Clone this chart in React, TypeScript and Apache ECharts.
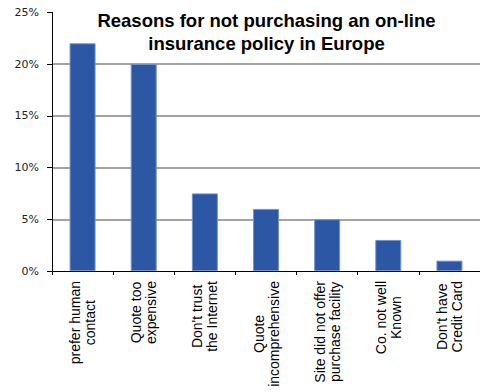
import React, { useEffect, useRef } from "react";
import * as echarts from "echarts";

const titleLines = ["Reasons for not purchasing an on-line", "insurance policy in Europe"];
const categories: string[][] = [
  ["prefer human", "contact"],
  ["Quote too", "expensive"],
  ["Don't trust", "the Internet"],
  ["Quote", "incomprehensive"],
  ["Site did not offer", "purchase facility"],
  ["Co. not well", "Known"],
  ["Don't have", "Credit Card"],
];
const values = [22, 20, 7.5, 6, 5, 3, 1];
const yMin = 0;
const yMax = 25;
const yStep = 5;

const LABEL_FONT = "Liberation Sans";
const LABEL_SIZE = 14;

function measure(text: string): number {
  const c = document.createElement("canvas").getContext("2d");
  if (!c) return text.length * 7;
  c.font = `${LABEL_SIZE}px "${LABEL_FONT}"`;
  return c.measureText(text).width;
}

export default function App() {
  const ref = useRef<HTMLDivElement>(null);
  useEffect(() => {
    if (!ref.current) return;
    const chart = echarts.init(ref.current, undefined, { renderer: "svg" });
    const rich: Record<string, any> = {};
    categories.forEach((lines, i) => {
      const widths = lines.map(measure);
      const w = Math.max(...widths);
      lines.forEach((_l, j) => {
        rich[`c${i}_${j}`] = {
          fontSize: LABEL_SIZE,
          fontFamily: LABEL_FONT,
          lineHeight: 15,
          color: "#000",
          padding: [0, (w - widths[j]) / 2, 0, 0],
        };
      });
    });
    chart.setOption({
      animation: false,
      grid: { left: 52, right: -6.4, top: 12.25, bottom: 121, containLabel: false },
      graphic: [
        {
          type: "text",
          x: 266.5,
          y: 9,
          style: {
            text: titleLines.join("\n"),
            align: "center",
            verticalAlign: "top",
            font: 'bold 18.5px "Liberation Sans"',
            lineHeight: 23,
            fill: "#000",
          },
          z: 10,
        },
      ],
      xAxis: {
        type: "category",
        data: categories.map((l) => l.join("\n")),
        boundaryGap: true,
        axisLine: { show: true, lineStyle: { color: "#000", width: 1 } },
        axisTick: { show: true, length: 4, alignWithLabel: false, lineStyle: { color: "#000" } },
        axisLabel: {
          interval: 0,
          rotate: 90,
          margin: 10,
          fontFamily: LABEL_FONT,
          fontSize: LABEL_SIZE,
          lineHeight: 15,
          color: "#000",
          formatter: (_v: string, i: number) =>
            categories[i].map((l, j) => `{c${i}_${j}|${l}}`).join("\n"),
          rich,
        },
        splitLine: { show: false },
      },
      yAxis: {
        type: "value",
        min: yMin,
        max: yMax,
        interval: yStep,
        axisLine: { show: true, lineStyle: { color: "#000", width: 1 } },
        axisTick: { show: true, length: 5, lineStyle: { color: "#000" } },
        axisLabel: {
          formatter: "{value}%",
          margin: 13,
          fontFamily: "DejaVu Sans",
          fontSize: 11,
          color: "#222",
        },
        splitLine: {
          show: true,
          showMinLine: false,
          showMaxLine: false,
          lineStyle: { color: "#858585", width: 1.5 },
        },
      },
      series: [
        {
          type: "bar",
          data: values,
          barWidth: 26,
          itemStyle: { color: "#2b57a4", borderColor: "#7393cc", borderWidth: 1 },
        },
      ],
    });
    return () => chart.dispose();
  }, []);
  return (
    <div
      ref={ref}
      style={{ position: "fixed", left: 0, top: 0, width: 480, height: 392, background: "#fff" }}
    />
  );
}
